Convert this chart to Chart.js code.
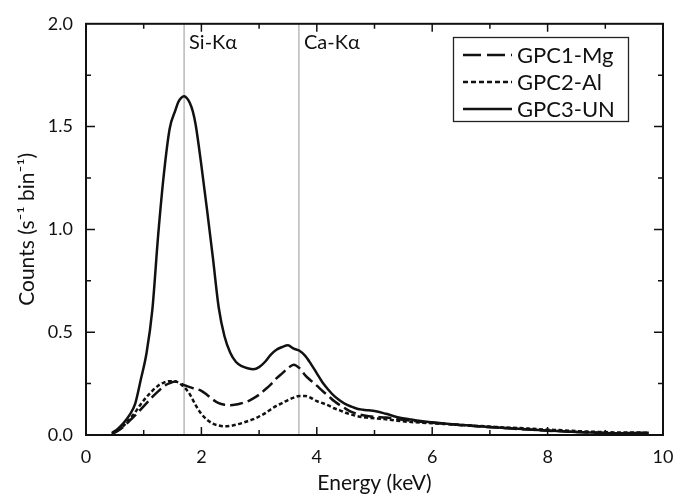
<!DOCTYPE html>
<html>
<head>
<meta charset="utf-8">
<script src="https://cdn.jsdelivr.net/npm/chart.js@4"></script>
<style>
  html, body { margin: 0; padding: 0; background: #fff; }
  #wrap { width: 688px; height: 498px; }
</style>
</head>
<body>
<div id="wrap"><canvas id="spectrum" width="688" height="498"></canvas></div>
<script>
// energy bins (keV) shared by all three spectra
const energies = [0.45, 0.55, 0.65, 0.75, 0.85, 0.95, 1.05, 1.15, 1.25, 1.35, 1.45, 1.55, 1.6, 1.65, 1.7, 1.75, 1.8, 1.85, 1.9,
  2.0, 2.1, 2.2, 2.3, 2.4, 2.5, 2.6, 2.7, 2.8, 2.9, 3.0, 3.1, 3.2, 3.3, 3.4, 3.5, 3.6, 3.7, 3.8, 3.9,
  4.0, 4.1, 4.2, 4.3, 4.4, 4.5, 4.6, 4.7, 4.8, 4.9, 5.0, 5.2, 5.4, 5.6, 5.8, 6.0, 6.25, 6.5, 6.75,
  7.0, 7.25, 7.5, 7.75, 8.0, 8.25, 8.5, 8.75, 9.0, 9.25, 9.5, 9.75];

const gpc1Mg = [0.006, 0.02, 0.04, 0.068, 0.095, 0.125, 0.155, 0.185, 0.212, 0.237, 0.252, 0.26, 0.258, 0.25, 0.243, 0.238, 0.233, 0.228, 0.225,
  0.215, 0.195, 0.172, 0.155, 0.147, 0.145, 0.148, 0.155, 0.163, 0.178, 0.196, 0.22, 0.245, 0.275, 0.3, 0.325, 0.342, 0.325, 0.29, 0.264,
  0.24, 0.214, 0.19, 0.165, 0.145, 0.128, 0.113, 0.103, 0.096, 0.091, 0.088, 0.085, 0.077, 0.071, 0.065, 0.06, 0.054, 0.048, 0.043,
  0.038, 0.034, 0.029, 0.025, 0.021, 0.018, 0.014, 0.012, 0.01, 0.008, 0.009, 0.01];

const gpc2Al = [0.005, 0.022, 0.045, 0.075, 0.11, 0.15, 0.185, 0.215, 0.24, 0.255, 0.262, 0.26, 0.255, 0.245, 0.233, 0.218, 0.198, 0.172, 0.145,
  0.102, 0.074, 0.055, 0.046, 0.042, 0.044, 0.05, 0.058, 0.067, 0.077, 0.09, 0.105, 0.124, 0.142, 0.155, 0.17, 0.182, 0.19, 0.19, 0.18,
  0.165, 0.155, 0.144, 0.13, 0.12, 0.108, 0.099, 0.092, 0.087, 0.084, 0.081, 0.076, 0.069, 0.064, 0.06, 0.057, 0.053, 0.049, 0.045,
  0.041, 0.037, 0.034, 0.03, 0.026, 0.023, 0.019, 0.016, 0.014, 0.012, 0.012, 0.011];

const gpc3Un = [0.01, 0.03, 0.058, 0.095, 0.15, 0.27, 0.4, 0.61, 0.97, 1.27, 1.49, 1.58, 1.62, 1.64, 1.648, 1.638, 1.615, 1.575, 1.51,
  1.31, 1.09, 0.86, 0.62, 0.48, 0.4, 0.355, 0.335, 0.325, 0.32, 0.33, 0.355, 0.39, 0.415, 0.428, 0.436, 0.42, 0.41, 0.385, 0.345,
  0.3, 0.255, 0.22, 0.19, 0.168, 0.15, 0.138, 0.128, 0.123, 0.12, 0.117, 0.103, 0.087, 0.077, 0.068, 0.062, 0.055, 0.049, 0.044,
  0.039, 0.034, 0.03, 0.026, 0.022, 0.018, 0.015, 0.012, 0.01, 0.009, 0.01, 0.011];

// emission line markers
const lineNames = ['Si-Kα', 'Ca-Kα'];
const lineEnergies = [1.70, 3.69];

const FONT = "Lato, 'Open Sans', sans-serif";

function pts(values) {
  return energies.map((e, i) => ({ x: e, y: values[i] }));
}

// frame, inward ticks, marker lines and the boxed legend
const decorations = {
  id: 'decorations',
  beforeDatasetsDraw(chart) {
    const { ctx, chartArea: a, scales: { x } } = chart;
    ctx.save();
    ctx.strokeStyle = '#a8a8a8';
    ctx.lineWidth = 1.2;
    ctx.fillStyle = '#111';
    ctx.font = '20px ' + FONT;
    ctx.textBaseline = 'middle';
    lineEnergies.forEach((e, i) => {
      const px = x.getPixelForValue(e);
      ctx.beginPath();
      ctx.moveTo(px, a.top);
      ctx.lineTo(px, a.bottom);
      ctx.stroke();
      ctx.fillText(lineNames[i], px + 5, 43);
    });
    ctx.restore();
  },
  afterDraw(chart) {
    const { ctx, chartArea: a, scales: { x, y } } = chart;
    ctx.save();
    ctx.strokeStyle = '#111';
    ctx.lineWidth = 1.5;
    ctx.beginPath();
    for (let v = 1; v < 10; v++) {
      const px = x.getPixelForValue(v);
      const len = v % 2 === 0 ? 8 : 5;
      ctx.moveTo(px, a.bottom); ctx.lineTo(px, a.bottom - len);
      ctx.moveTo(px, a.top); ctx.lineTo(px, a.top + len);
    }
    for (let v = 0.25; v < 2; v += 0.25) {
      const py = y.getPixelForValue(v);
      const len = Math.abs(v % 0.5) < 1e-6 ? 9 : 5;
      ctx.moveTo(a.left, py); ctx.lineTo(a.left + len, py);
      ctx.moveTo(a.right, py); ctx.lineTo(a.right - len, py);
    }
    ctx.stroke();

    ctx.lineWidth = 2;
    ctx.strokeRect(a.left, a.top, a.right - a.left, a.bottom - a.top);

    // legend
    ctx.lineWidth = 1.3;
    ctx.strokeStyle = '#222';
    ctx.strokeRect(453.5, 37.5, 175, 84);
    ctx.font = '22px ' + FONT;
    ctx.fillStyle = '#111';
    ctx.textBaseline = 'middle';
    chart.data.datasets.forEach((ds, i) => {
      const ly = 55 + i * 27;
      ctx.save();
      ctx.strokeStyle = ds.borderColor;
      ctx.lineWidth = ds.borderWidth;
      ctx.setLineDash(ds.legendDash || []);
      ctx.beginPath();
      ctx.moveTo(463, ly);
      ctx.lineTo(512, ly);
      ctx.stroke();
      ctx.restore();
      ctx.fillText(ds.label, 517, ly + 1);
    });
    ctx.restore();
  }
};

new Chart(document.getElementById('spectrum'), {
  type: 'line',
  data: {
    datasets: [
      { label: 'GPC1-Mg', data: pts(gpc1Mg), borderDash: [13, 5], legendDash: [18, 6] },
      { label: 'GPC2-Al', data: pts(gpc2Al), borderDash: [4, 2.5], legendDash: [5, 3] },
      { label: 'GPC3-UN', data: pts(gpc3Un), borderDash: [] }
    ].map(ds => Object.assign(ds, {
      borderColor: '#111',
      borderWidth: 2.5,
      pointRadius: 0,
      fill: false,
      cubicInterpolationMode: 'monotone'
    }))
  },
  options: {
    responsive: false,
    animation: false,
    layout: { padding: { left: 0, right: 25, top: 13, bottom: 0 } },
    plugins: {
      legend: { display: false },
      tooltip: { enabled: false }
    },
    scales: {
      x: {
        type: 'linear',
        min: 0,
        max: 10,
        grid: { display: false, drawTicks: false },
        border: { display: false },
        ticks: { stepSize: 2, padding: 11, color: '#111', font: { family: FONT, size: 18 } },
        title: { display: true, text: 'Energy (keV)', color: '#111', padding: 2, font: { family: FONT, size: 21 } },
        afterFit(scale) { scale.height = 63; }
      },
      y: {
        min: 0,
        max: 2,
        grid: { display: false, drawTicks: false },
        border: { display: false },
        ticks: { stepSize: 0.5, padding: 13, color: '#111', font: { family: FONT, size: 18 },
          callback: v => v.toFixed(1) },
        title: { display: true, text: 'Counts (s⁻¹ bin⁻¹)', color: '#111', padding: 15, font: { family: FONT, size: 21 } },
        afterFit(scale) { scale.width = 86; }
      }
    }
  },
  plugins: [decorations]
});
</script>
</body>
</html>
